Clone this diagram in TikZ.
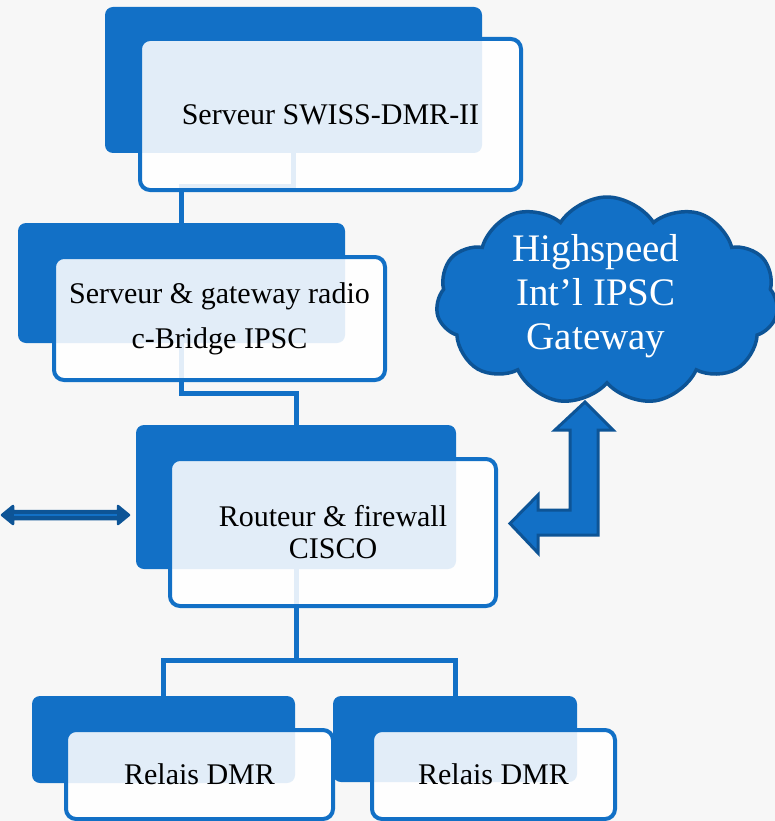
\documentclass[tikz,border=0pt]{standalone}
\usepackage{fontspec}
\setmainfont{Liberation Serif}
\usetikzlibrary{shapes.symbols}
\definecolor{boxblue}{HTML}{1270C6}
\definecolor{darkblue}{HTML}{0D5496}
\definecolor{bgcol}{HTML}{F7F7F7}
\begin{document}
\begin{tikzpicture}[x=1pt,y=-1pt,
  back/.style={fill=boxblue, draw=none, rounded corners=8pt, inner sep=0pt, outer sep=0pt},
  front/.style={fill=white, fill opacity=0.88, text opacity=1, draw=boxblue, line width=4pt,
    rounded corners=10pt, inner sep=0pt, outer sep=0pt, align=center, text=black,
    font=\fontsize{30}{45}\selectfont},
  conn/.style={draw=boxblue, line width=5pt},
  blockarrow/.style={draw=darkblue, fill=boxblue, line width=3pt, line join=miter},
  thinarrow/.style={draw=darkblue, fill=darkblue, line width=2.5pt, line join=round}
]
\useasboundingbox (0,0) rectangle (775,821);
\clip (0,0) rectangle (775,821);
\fill[bgcol] (0,0) rectangle (775,821);

% back boxes
\node[back, minimum width=377, minimum height=146] (b1) at (293.5,80) {};
\node[back, minimum width=327, minimum height=120] (b2) at (181.5,283) {};
\node[back, minimum width=320, minimum height=144] (b3) at (296,497) {};
\node[back, minimum width=263, minimum height=87] (r1) at (163.5,739.5) {};
\node[back, minimum width=244, minimum height=86] (r2) at (455,739) {};

% connectors
\draw[conn] (b1.south) -- ++(0,34) -| (b2.north);
\draw[conn] (b2.south) -- ++(0,50) -| (b3.north);
\draw[conn] (b3.south) -- ++(0,91) coordinate (split) -| (r1.north);
\draw[conn] (split) -| (r2.north);

% front boxes
\node[front, minimum width=381, minimum height=151] (f1) at (330.5,114.5) {Serveur SWISS-DMR-II};
\node[front, minimum width=331, minimum height=123] (f2) at (219.5,318.5) {Serveur \& gateway radio\\c-Bridge IPSC};
\node[front, minimum width=326, minimum height=147, font=\fontsize{30}{32}\selectfont] (f3) at (333,532.5) {Routeur \& firewall\\CISCO};
\node[front, minimum width=267, minimum height=89] (f4) at (199.5,774.5) {Relais DMR};
\node[front, minimum width=243, minimum height=89] (f5) at (493.5,774.5) {Relais DMR};

% cloud
\node[cloud, cloud puffs=11, cloud puff arc=115, aspect=1.6, fill=boxblue, draw=darkblue,
  line width=3.5pt, minimum width=342, minimum height=208, inner sep=0pt] (gw) at (607,301) {};
\node[text=white, align=center, font=\fontsize{39}{44}\selectfont] (gwtext) at (596,296) {Highspeed\\Int'l IPSC\\Gateway};

% bent double block arrow between cloud and router
\coordinate (up) at (585,402);
\coordinate (lt) at (510,523.5);
\draw[blockarrow] (up) -- (613,430) -- (598,430) -- (598,535) -- (538,535) -- (538,553)
  -- (lt) -- (538,495) -- (538,510) -- (570,510) -- (570,430) -- (555,430) -- cycle;

% left double arrow
\coordinate (la) at (2,515);
\coordinate (ra) at (129,515);
\draw[thinarrow] (la) -- (13,506) -- (13,511) -- (118,511) -- (118,506) -- (ra)
  -- (118,524) -- (118,519) -- (13,519) -- (13,524) -- cycle;
\draw[boxblue, line width=1.8pt] (14,515) -- (117,515);
\end{tikzpicture}
\end{document}
